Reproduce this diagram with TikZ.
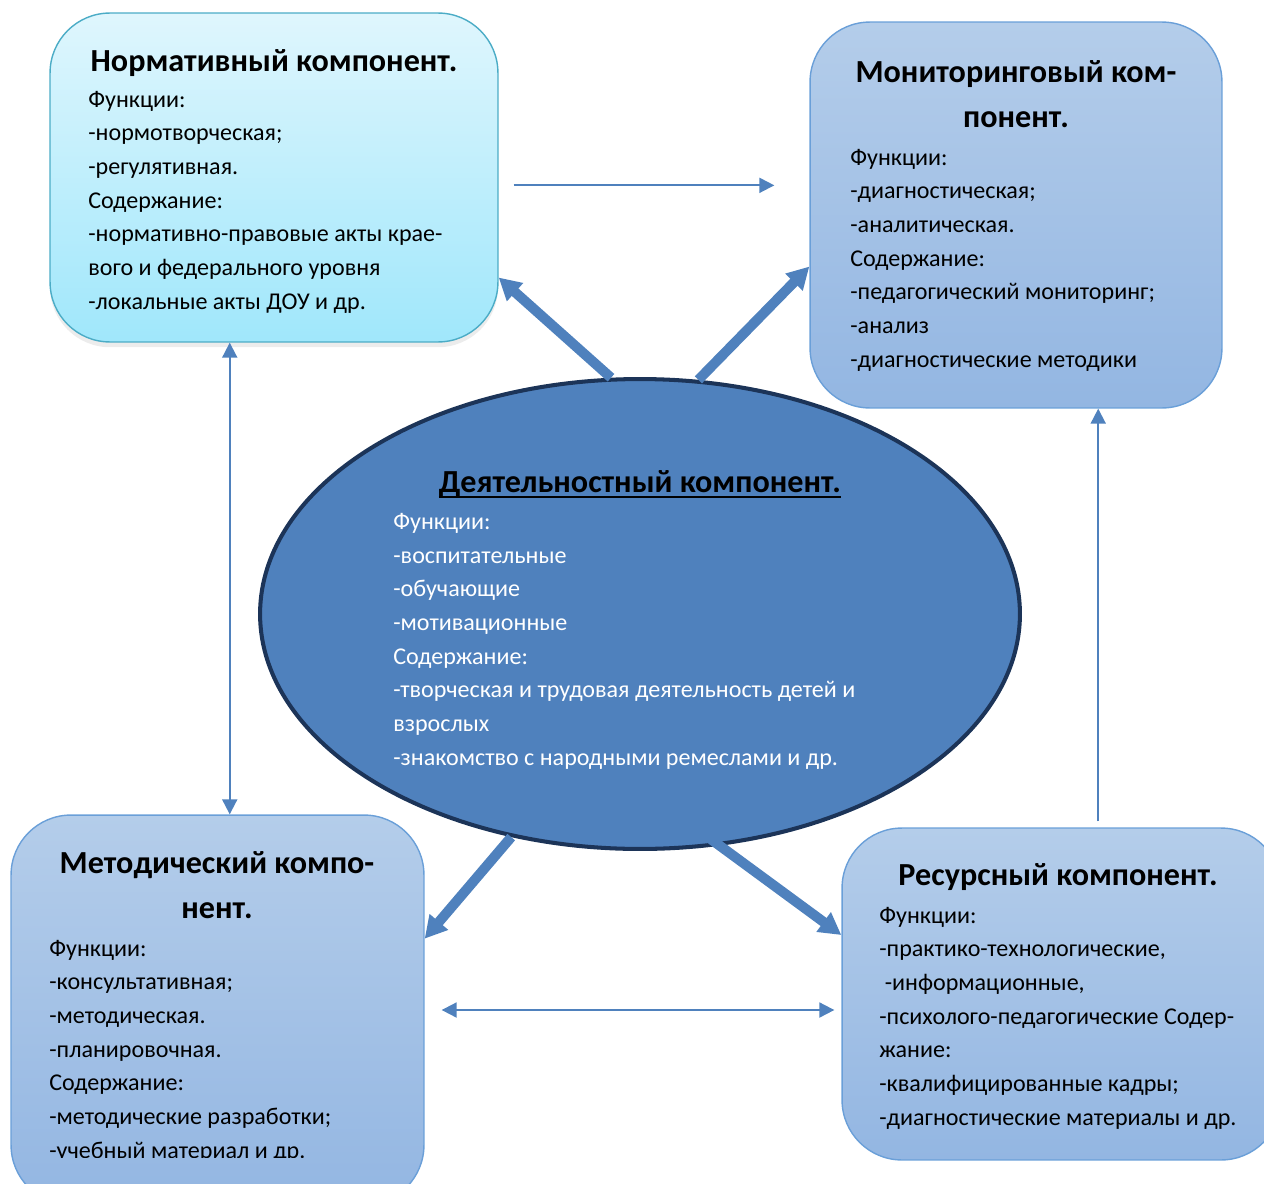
\documentclass[tikz,border=0pt]{standalone}
\usepackage{fontspec}
\setmainfont{Carlito}
\usetikzlibrary{arrows.meta,shapes.geometric,shadows}

\definecolor{normtop}{HTML}{DFF6FD}
\definecolor{normbot}{HTML}{A0E7FB}
\definecolor{normedge}{HTML}{4BACC6}
\definecolor{bluetop}{HTML}{B4CDEA}
\definecolor{bluebot}{HTML}{93B6E2}
\definecolor{blueedge}{HTML}{6A9FD8}
\definecolor{arrowblue}{HTML}{4F81BD}
\definecolor{ovaledge}{HTML}{1C3458}

\newcommand\ulbar[1]{\setbox0\hbox{#1}\rlap{\rule[-3.6pt]{\wd0}{1.2pt}}\box0}

\begin{document}
\begin{tikzpicture}[x=0.02cm, y=-0.02cm,
    compbox/.style={draw, rounded corners=1.2cm, inner sep=0pt, line width=0.8pt},
    cyanbox/.style={compbox, draw=normedge, top color=normtop, bottom color=normbot},
    bluebox/.style={compbox, draw=blueedge, top color=bluetop, bottom color=bluebot},
    headtext/.style={font=\fontsize{18.3}{25.5}\selectfont\bfseries, align=center, anchor=base, inner sep=0pt},
    listtext/.style={font=\fontsize{13.7}{19.15}\selectfont, align=left, anchor=base west, inner sep=0pt},
    thinarr/.style={draw=arrowblue, line width=1.1pt, >={Triangle[length=0.3cm,width=0.3cm]}},
    thickarr/.style={draw=arrowblue, line width=0.2cm, >={Triangle[length=0.44cm,width=0.46cm]}}]
  \useasboundingbox (0,0) rectangle (1264,1183);
  \clip (0,0) rectangle (1264,1183);

  % Components
  \node[cyanbox, minimum width=8.96cm, minimum height=6.58cm,
    drop shadow={shadow xshift=0pt, shadow yshift=-3pt, opacity=0.15}] (norm) at (274,177.5) {};
  \node[bluebox, minimum width=8.24cm, minimum height=7.72cm] (mon) at (1016,215) {};
  \node[bluebox, minimum width=8.26cm, minimum height=7.8cm] (meth) at (217.5,1010) {};
  \node[bluebox, minimum width=8.78cm, minimum height=6.64cm] (res) at (1061.5,994) {};
  \node[ellipse, draw=ovaledge, line width=2.3pt, fill=arrowblue,
    minimum width=15.2cm, minimum height=9.4cm, inner sep=0pt] (act) at (640,614) {};

  % Texts (anchored at the last line)
  \node[headtext] (normhead) at (274,71) {Нормативный компонент.};
  \node[listtext] (normlist) at (88,309) {Функции:\\-нормотворческая;\\-регулятивная.\\Содержание:\\-нормативно-правовые акты крае-\\вого и федерального уровня\\-локальные акты ДОУ и др.};

  \node[headtext] (monhead) at (1016,127) {Мониторинговый ком-\\понент.};
  \node[listtext] (monlist) at (850,367) {Функции:\\-диагностическая;\\-аналитическая.\\Содержание:\\-педагогический мониторинг;\\-анализ\\-диагностические методики};

  \node[headtext] (methhead) at (217,918) {Методический компо-\\нент.};
  \begin{scope}
    \clip (0,0) rectangle (1264,1157);
    \node[listtext] (methlist) at (49,1158) {Функции:\\-консультативная;\\-методическая.\\-планировочная.\\Содержание:\\-методические разработки;\\-учебный материал и др.};
  \end{scope}

  \node[headtext] (reshead) at (1058,885) {Ресурсный компонент.};
  \node[listtext] (reslist) at (879,1125) {Функции:\\-практико-технологические,\\\ -информационные,\\-психолого-педагогические Содер-\\жание:\\-квалифицированные кадры;\\-диагностические материалы и др.};

  \node[headtext] (acthead) at (640,492) {\ulbar{Деятельностный компонент.}};
  \node[listtext, text=white] (actlist) at (393,765) {Функции:\\-воспитательные\\-обучающие\\-мотивационные\\Содержание:\\-творческая и трудовая деятельность детей и\\взрослых\\-знакомство с народными ремеслами и др.};

  % Thin links
  \draw[thinarr, ->, shorten <=0.3cm, shorten >=0.7cm] (norm.-2.3) -- (norm.-2.3 -| mon.west);
  \draw[thinarr, <->] (norm.255) -- (norm.255 |- meth.north);
  \draw[thinarr, ->, shorten <=0.12cm] (mon.293.3 |- res.north) -- (mon.293.3);
  \draw[thinarr, <->, shorten <=0.34cm, shorten >=0.14cm] (meth.east) -- (meth.east -| res.west);

  % Thick links
  \draw[thickarr, ->] (act.97.2) -- (norm.-24.6);
  \draw[thickarr, ->] (act.76.1) -- (mon.194.8);
  \draw[thickarr, ->] (act.240) -- (meth.19);
  \draw[thickarr, ->, shorten <=-0.22cm] (act.289.3) -- (res.165.5);
\end{tikzpicture}
\end{document}
